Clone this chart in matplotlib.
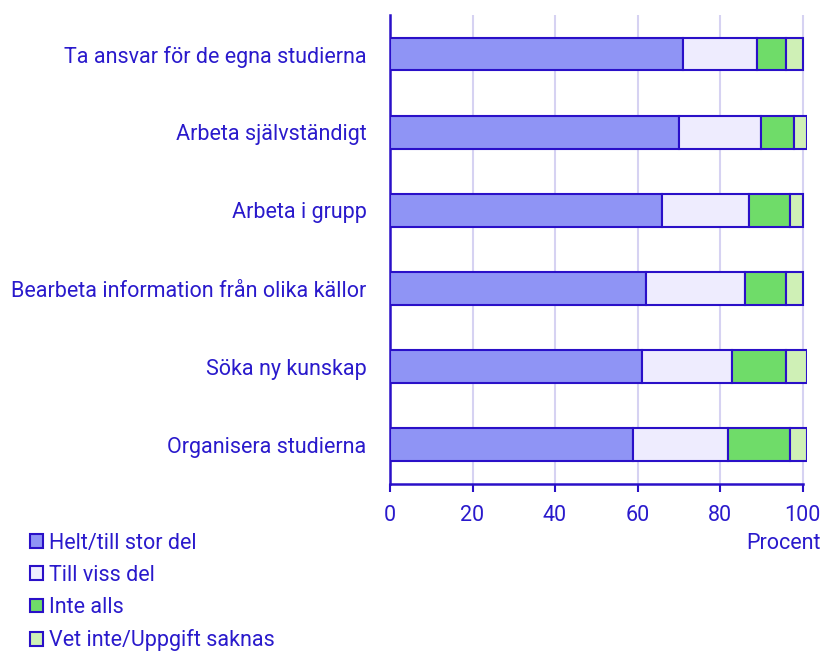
import matplotlib.pyplot as plt
from matplotlib.patches import Patch

plt.rcParams['font.family'] = ['Roboto', 'DejaVu Sans']

kategorier = ['Ta ansvar för de egna studierna', 'Arbeta självständigt', 'Arbeta i grupp',
              'Bearbeta information från olika källor', 'Söka ny kunskap', 'Organisera studierna']
helt = [71, 70, 66, 62, 61, 59]
viss = [18, 20, 21, 24, 22, 23]
inte = [7, 8, 10, 10, 13, 15]
vet = [4, 3, 3, 4, 5, 4]
serier = ['Helt/till stor del', 'Till viss del', 'Inte alls', 'Vet inte/Uppgift saknas']
farger = ['#8f94f5', '#eeecfe', '#6fdc69', '#cff0b6']

textfarg = '#2a1acc'
kant = '#2a10c8'
fs = 15.5

fig = plt.figure(figsize=(8.24, 6.52), dpi=100)
ax = fig.add_axes([0.4733, 0.2577, 0.979 - 0.4733, 0.977 - 0.2577])

y = list(range(len(kategorier)))
left = [0] * len(kategorier)
for vals, farg in zip([helt, viss, inte, vet], farger):
    ax.barh(y, vals, left=left, height=0.42, color=farg, edgecolor=kant, linewidth=1.5, zorder=3)
    left = [a + b for a, b in zip(left, vals)]

ax.set_ylim(len(kategorier) - 0.5, -0.5)
ax.set_xlim(0, 101)
ax.set_yticks(y)
ax.set_yticklabels(kategorier, fontsize=fs, color=textfarg)
ax.set_xticks([0, 20, 40, 60, 80, 100])
ax.tick_params(axis='y', length=0, pad=17)
ax.tick_params(axis='x', length=6, width=1.5, color=kant, labelsize=fs, labelcolor=textfarg, pad=9)
ax.grid(axis='x', color='#d6d2f2', linewidth=1.5, zorder=0)
for s in ['top', 'right']:
    ax.spines[s].set_visible(False)
ax.spines['left'].set_color(kant)
ax.spines['left'].set_linewidth(1.8)
ax.spines['bottom'].set_color(kant)
ax.spines['bottom'].set_linewidth(1.8)
ax.spines['bottom'].set_bounds(0, 100)

fig.text(0.996, 0.167, 'Procent', ha='right', va='center', fontsize=fs, color=textfarg)

handles = [Patch(facecolor=f, edgecolor=kant, linewidth=1.5) for f in farger]
fig.legend(handles, serier, loc='upper left', bbox_to_anchor=(0.036, 0.183), frameon=False,
           handlelength=0.6, handleheight=0.6, handletextpad=0.3, labelspacing=0.52,
           fontsize=fs, labelcolor=textfarg, borderaxespad=0, borderpad=0)

fig.savefig('out.png', dpi=100)
